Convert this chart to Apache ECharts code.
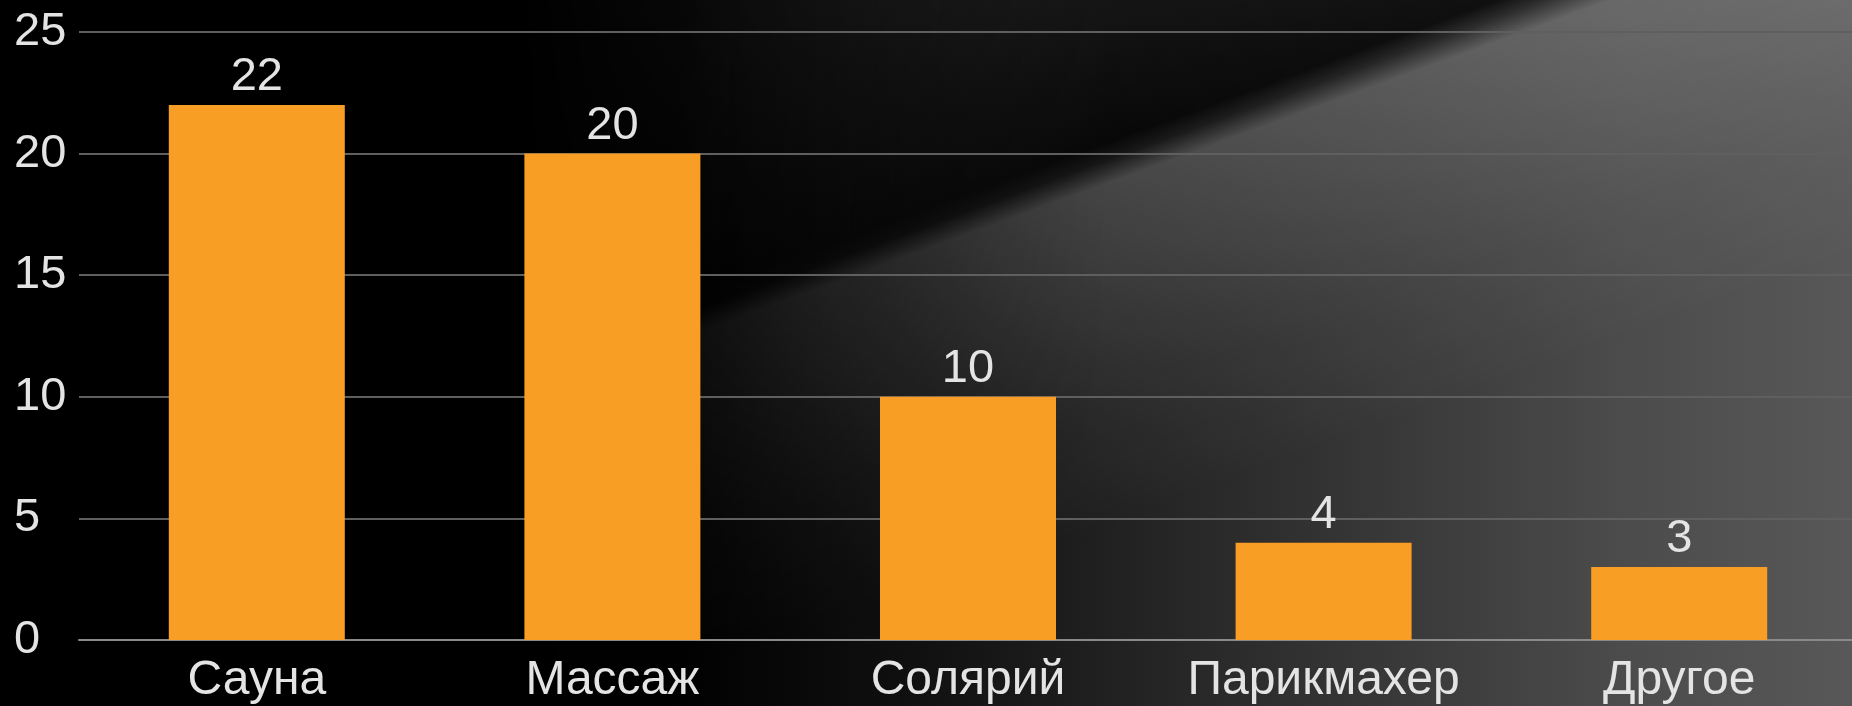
<!DOCTYPE html>
<html>
<head>
<meta charset="utf-8">
<script src="https://cdn.jsdelivr.net/npm/echarts@6/dist/echarts.min.js"></script>
<style>
  html, body { margin: 0; padding: 0; width: 1852px; height: 706px; overflow: hidden; background: #000; }
  #bg { position: absolute; left: 0; top: 0; width: 1852px; height: 706px;
    background: linear-gradient(90deg, #000 0%, #000 36%, #111 50%, #242424 62%, #3a3a3a 76%, #4c4c4c 88%, #585858 100%); }
  #streak { position: absolute; left: 0; top: 0; width: 1852px; height: 706px;
    background: linear-gradient(160deg, rgba(48,48,48,0.9) 0%, rgba(30,30,30,0.7) 22%, rgba(0,0,0,0.75) 39.5%, rgba(0,0,0,0.3) 40.8%, rgba(255,255,255,0.17) 42.5%, rgba(255,255,255,0.13) 48%, rgba(255,255,255,0.05) 58%, rgba(255,255,255,0) 68%);
    -webkit-mask-image: linear-gradient(90deg, rgba(0,0,0,0) 28%, rgba(0,0,0,1) 60%);
    mask-image: linear-gradient(90deg, rgba(0,0,0,0) 28%, rgba(0,0,0,1) 60%); }
  #chart { position: absolute; left: 0; top: 0; width: 1862px; height: 706px; }
</style>
</head>
<body>
<div id="bg"></div>
<div id="streak"></div>
<div id="chart"></div>
<script>
const categories = ['Сауна', 'Массаж', 'Солярий', 'Парикмахер', 'Другое'];
const values = [22, 20, 10, 4, 3];
const yMin = 0, yMax = 25, yStep = 5;

const textColor = '#e4e4e4';
const font = '"Liberation Sans", Arial, sans-serif';

const chart = echarts.init(document.getElementById('chart'), null, { renderer: 'canvas' });
chart.setOption({
  backgroundColor: 'transparent',
  animation: false,
  grid: { left: 79, width: 1778, top: 32, height: 608, containLabel: false },
  xAxis: {
    type: 'category',
    data: categories,
    axisLine: { show: true, lineStyle: { color: '#8a8a8a', width: 2 } },
    axisTick: { show: false },
    axisLabel: { color: textColor, fontSize: 48, fontFamily: font, margin: 17 }
  },
  yAxis: {
    type: 'value',
    min: yMin, max: yMax, interval: yStep,
    axisLine: { show: false },
    axisTick: { show: false },
    axisLabel: { color: textColor, fontSize: 47, fontFamily: font, align: 'left', margin: 65 },
    splitLine: { show: true, lineStyle: { color: '#5f5f5f', width: 2 } }
  },
  series: [{
    type: 'bar',
    data: values,
    barWidth: 176,
    itemStyle: { color: '#F99E25' },
    label: { show: true, position: 'top', distance: 4, color: textColor, fontSize: 47, fontFamily: font }
  }]
});
</script>
</body>
</html>
